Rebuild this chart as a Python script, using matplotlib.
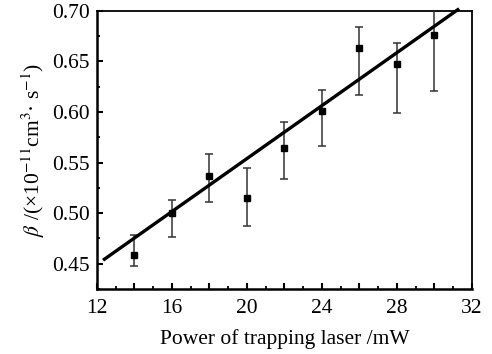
import numpy as np
import matplotlib
matplotlib.use('Agg')
import matplotlib.pyplot as plt
from matplotlib.ticker import MultipleLocator, FuncFormatter

# data
power = [14, 16, 18, 20, 22, 24, 26, 28, 30]
beta = [0.459, 0.500, 0.537, 0.515, 0.564, 0.601, 0.663, 0.648, 0.676]
err_hi = [0.478, 0.513, 0.558, 0.545, 0.590, 0.622, 0.684, 0.668, 0.701]
err_lo = [0.448, 0.476, 0.511, 0.487, 0.534, 0.566, 0.617, 0.599, 0.621]

# fitted line
fit_slope = 0.0131
fit_icpt = 0.2919
fit_x = [12.4, 31.25]

plt.rcParams['font.family'] = ['Liberation Serif', 'DejaVu Serif']
plt.rcParams['mathtext.fontset'] = 'stix'

fig = plt.figure(figsize=(4.92, 3.54), dpi=100)
ax = fig.add_axes([0.197, 0.184, 0.762, 0.785])

yerr = [np.array(beta) - np.array(err_lo), np.array(err_hi) - np.array(beta)]
ax.errorbar(power, beta, yerr=yerr, fmt='s', color='black', ms=5,
            ecolor='#333333', elinewidth=1.1, capsize=3, capthick=1.1, zorder=3)

fx = np.array(fit_x)
ax.plot(fx, fit_slope * fx + fit_icpt, color='black', lw=2.4, zorder=4, clip_on=False)

ax.set_xlim(12, 32)
ax.set_ylim(0.425, 0.70)
ax.xaxis.set_major_locator(MultipleLocator(2))
ax.xaxis.set_minor_locator(MultipleLocator(1))
ax.xaxis.set_major_formatter(FuncFormatter(lambda v, p: '%d' % v if round(v) % 4 == 0 else ''))
ax.yaxis.set_major_locator(MultipleLocator(0.05))
ax.yaxis.set_minor_locator(MultipleLocator(0.025))
ax.yaxis.set_major_formatter(FuncFormatter(lambda v, p: '%.2f' % v))

ax.tick_params(which='both', direction='in', top=False, right=False, labelsize=15.5, color='black')
ax.tick_params(which='major', length=4, width=1.5, pad=5)
ax.tick_params(axis='x', which='major', pad=7.5)
ax.tick_params(which='minor', length=2.5, width=1.3)

for s in ['left', 'bottom']:
    ax.spines[s].set_linewidth(1.8)
for s in ['top', 'right']:
    ax.spines[s].set_linewidth(1.3)

ax.set_xlabel('Power of trapping laser /mW', fontsize=15.5, labelpad=8)
ax.set_ylabel(r'$\beta$ /(×10$^{-11}$cm$^{3}$· s$^{-1}$)', fontsize=15.5, labelpad=4)

fig.savefig('out.png', dpi=100)
